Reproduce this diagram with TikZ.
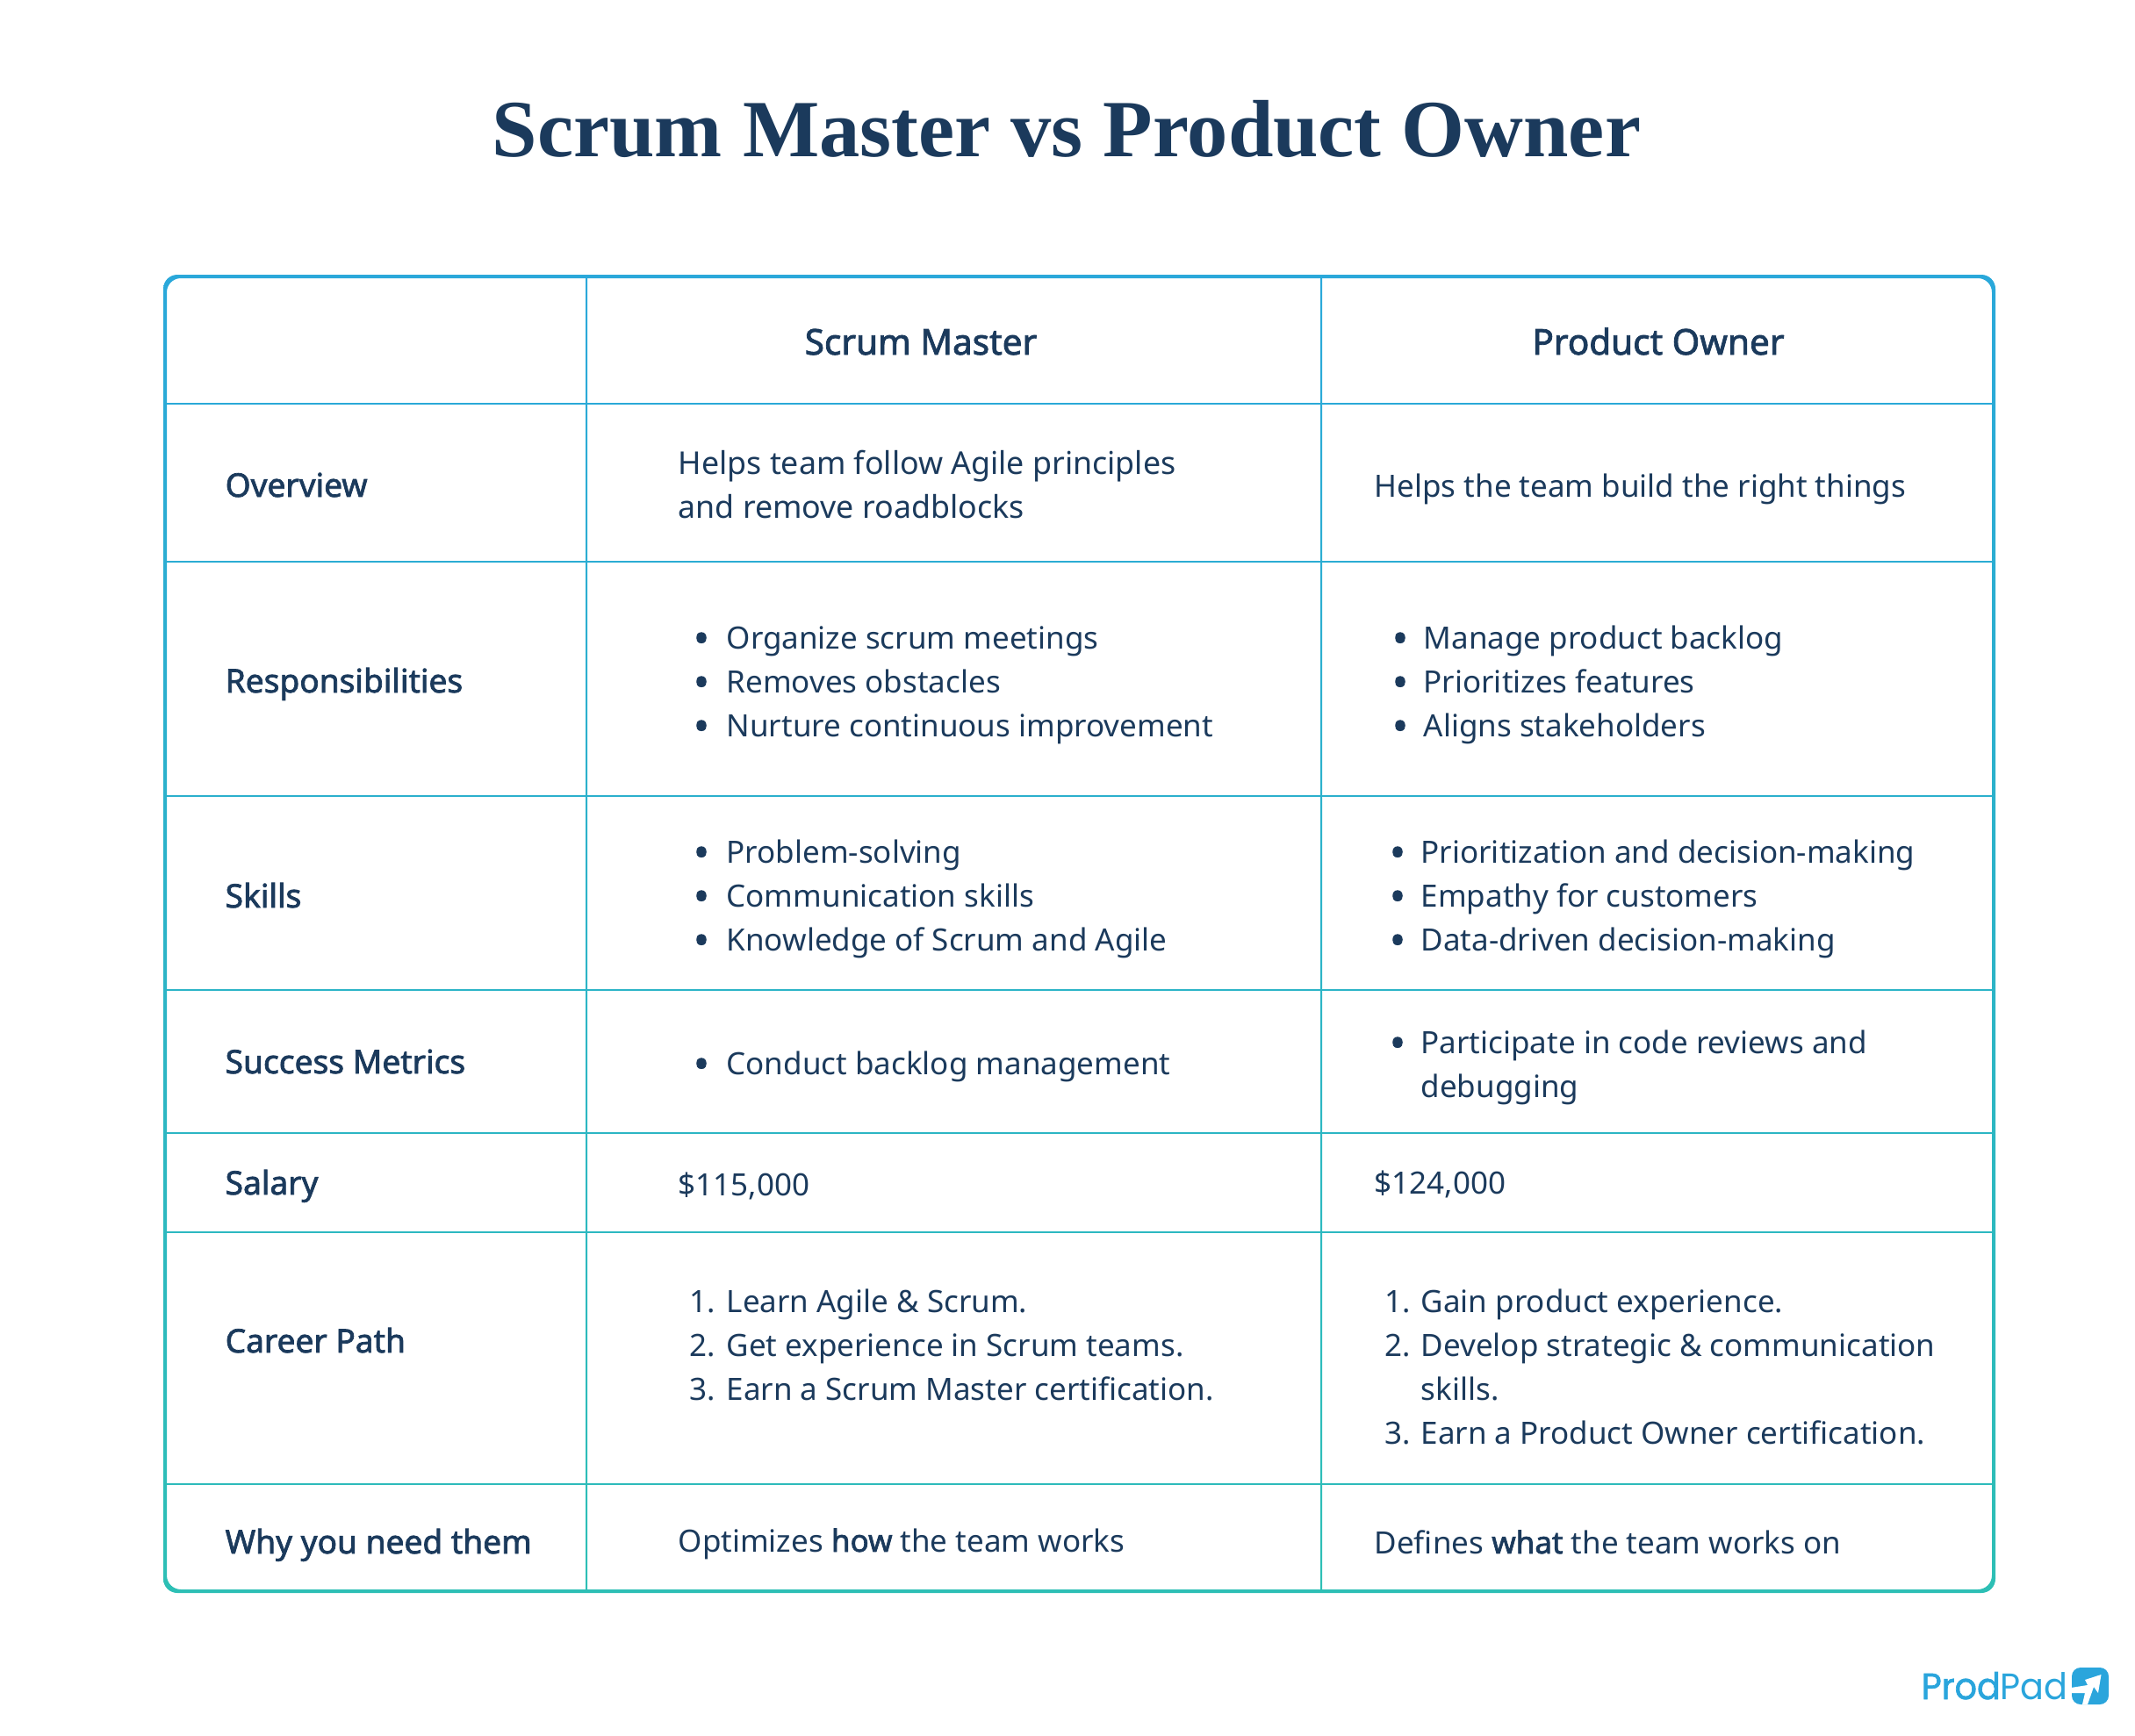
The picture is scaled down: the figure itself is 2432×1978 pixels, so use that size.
\documentclass[tikz,border=0pt]{standalone}
\usepackage{fontspec}
\setmainfont{Noto Sans}[BoldFont={Noto Sans},BoldFeatures={FakeBold=2}]
\newfontfamily\titlefont{Liberation Serif}
\newfontfamily\logofont{Poppins}[FakeStretch=0.95,FakeBold=1.5]
\newfontfamily\logolight{Poppins}[FakeStretch=0.95]
\definecolor{inkblue}{HTML}{1B3A5C}
\definecolor{frametop}{HTML}{2AA8DA}
\definecolor{framebot}{HTML}{2DBFB5}
\definecolor{logoblue}{HTML}{2AA5DC}
\tikzset{
  rowhead/.style={anchor=base west,inner sep=0pt,text=inkblue,font=\fontsize{10.55}{12}\selectfont\bfseries},
  colhead/.style={anchor=base,inner sep=0pt,text=inkblue,font=\fontsize{11.5}{13}\selectfont\bfseries},
  celltext/.style={anchor=base west,inner sep=0pt,text=inkblue,font=\fontsize{9.95}{12}\selectfont},
  widetext/.style={celltext,font=\fontsize{10.17}{12}\selectfont},
  itemmark/.style={anchor=base east,inner sep=0pt,text=inkblue,font=\fontsize{9.95}{12}\selectfont},
  dotmark/.style={anchor=base,inner sep=0pt,text=inkblue,font=\fontsize{13.5}{14}\selectfont\bfseries},
  gridline/.style={draw,line width=0.5pt},
}
\begin{document}
\begin{tikzpicture}[x=0.01cm,y=-0.01cm]
\useasboundingbox (0,0) rectangle (2432,1978);

\node[inner sep=0pt,anchor=base,text=inkblue,font=\fontsize{26.3}{30}\titlefont\bfseries] (title) at (1215,178) {Scrum Master vs Product Owner};

% table lines
\path[gridline,frametop!94!framebot] (188,460) -- (2271,460);
\path[gridline,frametop!82!framebot] (188,640) -- (2271,640);
\path[gridline,frametop!64!framebot] (188,907) -- (2271,907);
\path[gridline,frametop!50!framebot] (188,1128) -- (2271,1128);
\path[gridline,frametop!40!framebot] (188,1291) -- (2271,1291);
\path[gridline,frametop!32!framebot] (188,1404) -- (2271,1404);
\path[gridline,frametop!15!framebot] (188,1691) -- (2271,1691);
\shade[top color=frametop,bottom color=framebot] (667,315) rectangle (669,1813);
\shade[top color=frametop,bottom color=framebot] (1504,315) rectangle (1506,1813);
\shade[even odd rule,top color=frametop,bottom color=framebot,rounded corners=0.16cm] (186,313) rectangle (2273,1815) (190,317) rectangle (2269,1811);

% header
\node[colhead] (hsm) at (1049,404) {Scrum Master};
\node[colhead] (hpo) at (1889,404) {Product Owner};

% overview
\node[rowhead] (overview) at (256,566) {Overview};
\node[widetext] (ov1) at (772,540) {Helps team follow Agile principles};
\node[widetext] (ov2) at (772,590) {and remove roadblocks};
\node[celltext] (ov3) at (1565,566) {Helps the team build the right things};

% responsibilities
\node[rowhead] (resp) at (256,789) {Responsibilities};
\node[dotmark] (rs1m) at (799,744) {•};
\node[celltext] (rs1) at (827,739) {Organize scrum meetings};
\node[dotmark] (rs2m) at (799,794) {•};
\node[celltext] (rs2) at (827,789) {Removes obstacles};
\node[dotmark] (rs3m) at (799,844) {•};
\node[celltext] (rs3) at (827,839) {Nurture continuous improvement};
\node[dotmark] (rp1m) at (1595,744) {•};
\node[celltext] (rp1) at (1621,739) {Manage product backlog};
\node[dotmark] (rp2m) at (1595,794) {•};
\node[celltext] (rp2) at (1621,789) {Prioritizes features};
\node[dotmark] (rp3m) at (1595,844) {•};
\node[celltext] (rp3) at (1621,839) {Aligns stakeholders};

% skills
\node[rowhead] (skills) at (256,1034) {Skills};
\node[dotmark] (ks1m) at (799,988) {•};
\node[celltext] (ks1) at (827,983) {Problem-solving};
\node[dotmark] (ks2m) at (799,1038) {•};
\node[celltext] (ks2) at (827,1033) {Communication skills};
\node[dotmark] (ks3m) at (799,1088) {•};
\node[celltext] (ks3) at (827,1083) {Knowledge of Scrum and Agile};
\node[dotmark] (kp1m) at (1592,988) {•};
\node[celltext] (kp1) at (1618,983) {Prioritization and decision-making};
\node[dotmark] (kp2m) at (1592,1038) {•};
\node[celltext] (kp2) at (1618,1033) {Empathy for customers};
\node[dotmark] (kp3m) at (1592,1088) {•};
\node[celltext] (kp3) at (1618,1083) {Data-driven decision-making};

% success metrics
\node[rowhead] (metrics) at (256,1223) {Success Metrics};
\node[dotmark] (ms1m) at (799,1229) {•};
\node[celltext] (ms1) at (827,1224) {Conduct backlog management};
\node[dotmark] (mp1m) at (1592,1205) {•};
\node[celltext] (mp1) at (1618,1200) {Participate in code reviews and};
\node[celltext] (mp2) at (1618,1250) {debugging};

% salary
\node[rowhead] (salary) at (256,1361) {Salary};
\node[celltext] (sal1) at (772,1362) {\$115,000};
\node[celltext] (sal2) at (1565,1360) {\$124,000};

% career path
\node[rowhead] (career) at (256,1541) {Career Path};
\node[itemmark] (cs1m) at (816,1495) {1.};
\node[celltext] (cs1) at (827,1495) {Learn Agile \& Scrum.};
\node[itemmark] (cs2m) at (816,1545) {2.};
\node[celltext] (cs2) at (827,1545) {Get experience in Scrum teams.};
\node[itemmark] (cs3m) at (816,1595) {3.};
\node[celltext] (cs3) at (827,1595) {Earn a Scrum Master certification.};
\node[itemmark] (cp1m) at (1608,1495) {1.};
\node[celltext] (cp1) at (1618,1495) {Gain product experience.};
\node[itemmark] (cp2m) at (1608,1545) {2.};
\node[celltext] (cp2) at (1618,1545) {Develop strategic \& communication};
\node[celltext] (cp3) at (1618,1595) {skills.};
\node[itemmark] (cp4m) at (1608,1645) {3.};
\node[celltext] (cp4) at (1618,1645) {Earn a Product Owner certification.};

% why
\node[rowhead] (why) at (256,1770) {Why you need them};
\node[celltext] (wh1) at (772,1768) {Optimizes \textbf{how} the team works};
\node[celltext] (wh2) at (1565,1770) {Defines \textbf{what} the team works on};

% logo
\node[inner sep=0pt,anchor=base west,text=logoblue,font=\fontsize{11.9}{14}\logofont] (logo) at (2188,1936) {Prod{\logolight Pad}};
\fill[logoblue,rounded corners=0.1cm] (2360,1900) rectangle (2402,1942);
\fill[white] (2359,1923) -- (2378,1920) -- (2375,1914) -- (2393.5,1908) -- (2390,1929) -- (2385,1922) -- (2378,1942) -- (2372,1942) -- (2375,1929) -- (2359,1929) -- cycle;
\end{tikzpicture}
\end{document}
